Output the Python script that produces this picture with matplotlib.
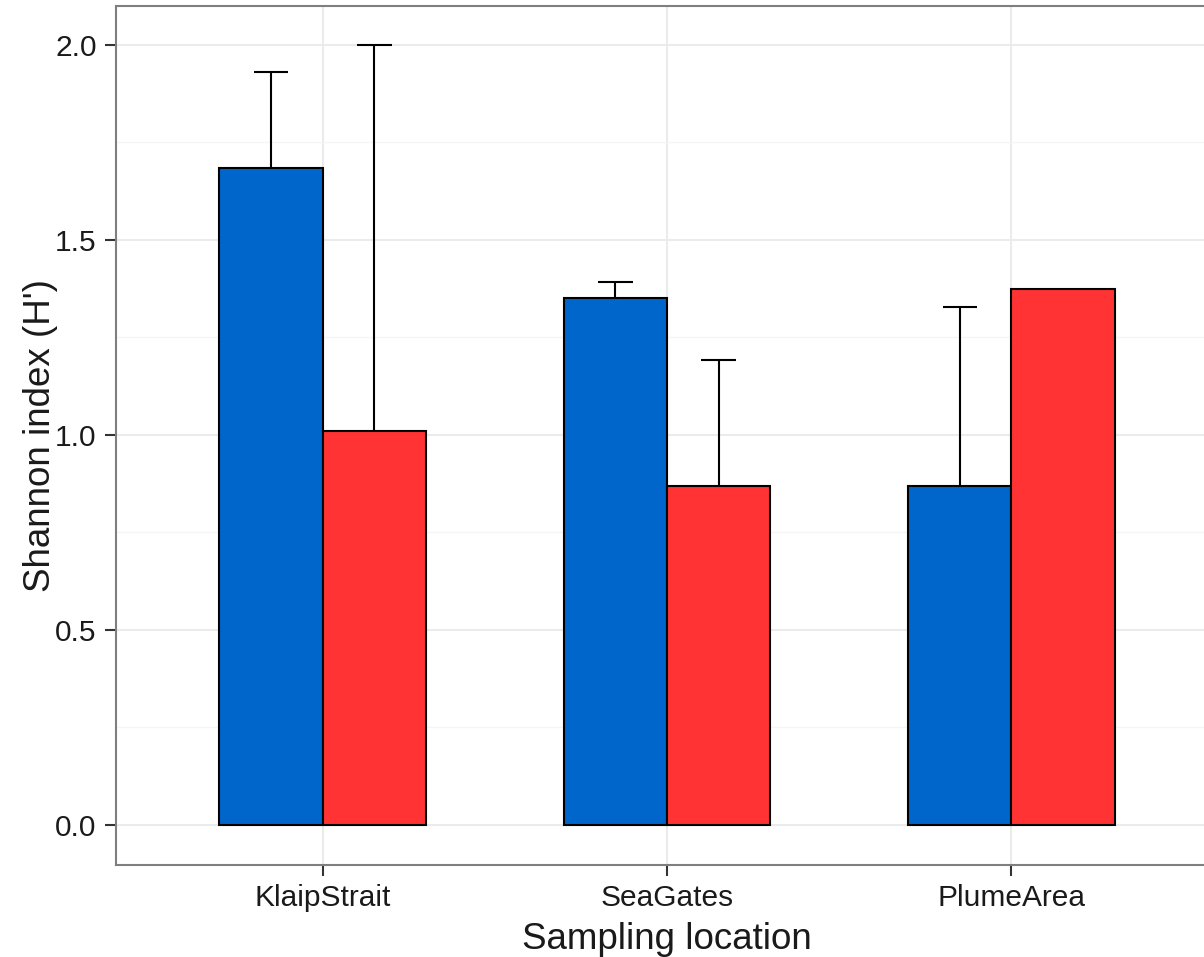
import numpy as np
import matplotlib
matplotlib.use('Agg')
import matplotlib.pyplot as plt

plt.rcParams['font.family'] = ['Liberation Sans', 'DejaVu Sans']

locations = ['KlaipStrait', 'SeaGates', 'PlumeArea']
blue_mean = [1.685, 1.351, 0.869]
blue_upper = [1.931, 1.392, 1.328]
red_mean = [1.010, 0.869, 1.374]
red_upper = [2.000, 1.192, np.nan]

BLUE = '#0066CC'
RED = '#FF3333'
bar_w = 0.3
cap_w = 0.1

fig = plt.figure(figsize=(12.04, 9.57), dpi=100)
ax = fig.add_axes([116 / 1204, 1 - 865 / 957, (1218 - 116) / 1204, (865 - 6) / 957])

x = np.arange(1, len(locations) + 1)
for xs, means, uppers, col in [(x - bar_w / 2, blue_mean, blue_upper, BLUE),
                               (x + bar_w / 2, red_mean, red_upper, RED)]:
    ax.bar(xs, means, width=bar_w, color=col, edgecolor='black', linewidth=1.5, zorder=3)
    ax.vlines(xs, means, uppers, color='black', linewidth=1.5, zorder=2)
    ax.hlines(uppers, xs - cap_w / 2, xs + cap_w / 2, color='black', linewidth=1.5, zorder=2)

ax.set_xlim(0.4, 3.6)
ax.set_ylim(-0.1026, 2.1)
ax.set_xticks(x)
ax.set_xticklabels(locations)
ax.set_yticks([0, 0.5, 1.0, 1.5, 2.0])
ax.set_yticklabels(['0.0', '0.5', '1.0', '1.5', '2.0'])
ax.set_yticks([0.25, 0.75, 1.25, 1.75], minor=True)
ax.tick_params(axis='both', which='major', labelsize=21.5, labelcolor='#1a1a1a',
               color='#333333', length=8, width=1.5, pad=6)
ax.tick_params(axis='y', which='minor', length=0)
ax.grid(True, which='major', color='#EBEBEB', linewidth=1.5, zorder=0)
ax.grid(True, which='minor', axis='y', color='#F5F5F5', linewidth=1.0, zorder=0)
ax.set_axisbelow(True)
for s in ax.spines.values():
    s.set_color('#7f7f7f')
    s.set_linewidth(1.5)

ax.set_xlabel('Sampling location', fontsize=26.5, color='#1a1a1a', labelpad=7)
ax.set_ylabel("Shannon index (H')", fontsize=26.5, color='#1a1a1a', labelpad=-2)

fig.savefig('out.png', dpi=100)
